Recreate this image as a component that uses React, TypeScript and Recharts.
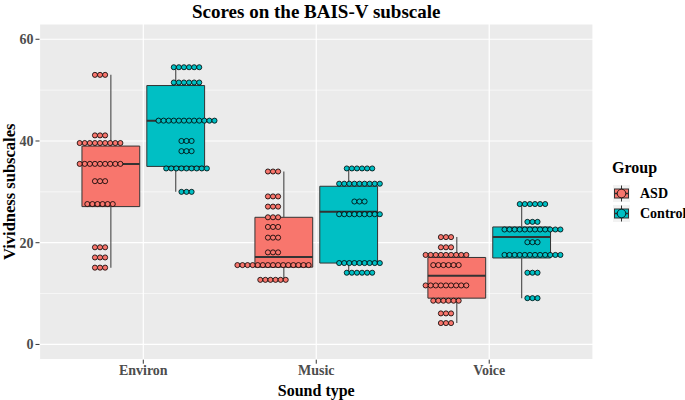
import React from "react";
import {
  CartesianGrid,
  ComposedChart,
  ReferenceArea,
  ReferenceLine,
  Scatter,
  XAxis,
  YAxis,
} from "recharts";

// sound types on the x axis, groups dodged inside each
const categories = ["Environ", "Music", "Voice"];
const groups = ["ASD", "Control"];
const groupColors = ["#F8766D", "#00BFC4"];

// boxplot stats per category (Environ, Music, Voice)
const asdLow = [15.1, 12.7, 4.2];
const asdQ1 = [27.1, 15.2, 9.1];
const asdMedian = [35.5, 17.2, 13.5];
const asdQ3 = [39.0, 25.0, 17.1];
const asdHigh = [53.0, 34.0, 21.1];

const controlLow = [30.0, 14.1, 9.1];
const controlQ1 = [35.0, 16.0, 17.0];
const controlMedian = [44.0, 26.1, 21.1];
const controlQ3 = [50.9, 31.1, 23.1];
const controlHigh = [54.5, 34.6, 27.6];

// dotplot rows: [score, number of dots]
const asdEnvironDots = [[53.0, 3], [41.1, 3], [39.6, 9], [35.5, 9], [32.1, 3], [27.6, 6], [19.1, 3], [17.1, 3], [15.1, 3]];
const asdMusicDots = [[34.0, 3], [29.1, 3], [27.1, 3], [25.0, 3], [23.1, 3], [21.0, 3], [18.1, 3], [15.6, 15], [12.7, 6]];
const asdVoiceDots = [[21.1, 3], [19.1, 3], [17.6, 9], [15.6, 6], [11.6, 9], [8.6, 6], [6.1, 3], [4.2, 3]];

const controlEnvironDots = [[54.5, 6], [51.5, 6], [44.0, 12], [40.0, 3], [38.0, 3], [34.6, 9], [30.0, 3]];
const controlMusicDots = [[34.6, 6], [31.6, 9], [28.1, 3], [25.6, 9], [16.0, 9], [14.1, 6]];
const controlVoiceDots = [[27.6, 6], [24.1, 3], [22.6, 12], [20.1, 3], [17.6, 12], [14.1, 3], [9.1, 3]];

const yTicks = [0, 20, 40, 60];
const yMinor = [10, 30, 50];

const W = 685;
const H = 400;
const M = { top: 24, right: 92, left: 9.5, bottom: 4.3 };
const Y_AXIS_W = 30;
const X_AXIS_H = 36;
const X_DOMAIN = [0.4, 3.6];
const Y_DOMAIN = [-3, 63];
const PLOT_W = W - M.left - M.right - Y_AXIS_W;
const PLOT_H = H - M.top - M.bottom - X_AXIS_H;
const BINWIDTH = 1;
// dot diameter expressed in x units
const DOT_DX =
  (BINWIDTH * PLOT_H) / (Y_DOMAIN[1] - Y_DOMAIN[0]) /
  (PLOT_W / (X_DOMAIN[1] - X_DOMAIN[0]));
const DOT_R = (BINWIDTH * PLOT_H) / (Y_DOMAIN[1] - Y_DOMAIN[0]) / 2;

const BOX_DODGE = 0.1875;
const BOX_HALF = 0.167;
const DOT_DODGE = 0.25;

const stats = [
  { low: asdLow, q1: asdQ1, med: asdMedian, q3: asdQ3, high: asdHigh },
  { low: controlLow, q1: controlQ1, med: controlMedian, q3: controlQ3, high: controlHigh },
];
const dotRows = [
  [asdEnvironDots, asdMusicDots, asdVoiceDots],
  [controlEnvironDots, controlMusicDots, controlVoiceDots],
];

function stackDots(g: number) {
  const pts: { x: number; y: number }[] = [];
  dotRows[g].forEach((rows, c) => {
    const center = c + 1 + (g === 0 ? -DOT_DODGE : DOT_DODGE);
    rows.forEach(([v, n]) => {
      for (let i = 0; i < n; i++) {
        pts.push({ x: center + (i - (n - 1) / 2) * DOT_DX, y: v });
      }
    });
  });
  return pts;
}

const font = '"Liberation Serif", "Times New Roman", serif';

function LegendKey({ color }: { color: string }) {
  return (
    <svg width={17} height={17} style={{ display: "block" }}>
      <rect x={0} y={0} width={17} height={17} fill="#F2F2F2" />
      <line x1={8.5} x2={8.5} y1={0.5} y2={16.5} stroke="#333" strokeWidth={1} />
      <rect x={1.5} y={4} width={14} height={9} fill={color} stroke="#333" strokeWidth={1} />
      <line x1={1.5} x2={15.5} y1={8.5} y2={8.5} stroke="#333" strokeWidth={1.5} />
      <circle cx={8.5} cy={8.5} r={4.3} fill={color} stroke="#000" strokeWidth={0.8} />
    </svg>
  );
}

export default function App() {
  const tickStyle = { fill: "#4D4D4D", fontFamily: font, fontWeight: 700, fontSize: 14 };
  return (
    <div style={{ position: "absolute", left: 0, top: 0, width: W, height: H, background: "#fff", fontFamily: font }}>
      <div
        style={{
          position: "absolute",
          left: M.left + Y_AXIS_W,
          width: PLOT_W,
          top: 0,
          textAlign: "center",
          fontWeight: 700,
          fontSize: 19,
          lineHeight: "24px",
          color: "#000",
        }}
      >
        Scores on the BAIS-V subscale
      </div>
      <ComposedChart width={W} height={H} margin={M}>
        <CartesianGrid fill="#EBEBEB" stroke="#fff" strokeWidth={1.2} />
        <CartesianGrid
          stroke="#fff"
          strokeWidth={0.6}
          vertical={false}
          horizontalValues={yMinor}
        />
        <XAxis
          type="number"
          dataKey="x"
          domain={X_DOMAIN}
          ticks={[1, 2, 3]}
          tickFormatter={(v) => categories[v - 1]}
          allowDataOverflow
          height={X_AXIS_H}
          axisLine={false}
          tickLine={{ stroke: "#333" }}
          tickSize={4}
          tickMargin={1}
          tick={tickStyle}
          label={{
            value: "Sound type",
            position: "insideBottom",
            offset: 0,
            style: { fill: "#000", fontFamily: font, fontWeight: 700, fontSize: 16 },
          }}
        />
        <YAxis
          type="number"
          dataKey="y"
          domain={Y_DOMAIN}
          ticks={yTicks}
          allowDataOverflow
          width={Y_AXIS_W}
          axisLine={false}
          tickLine={{ stroke: "#333" }}
          tickSize={4}
          tickMargin={2}
          tick={tickStyle}
          label={{
            value: "Vividness subscales",
            angle: -90,
            position: "insideLeft",
            offset: 0,
            style: { textAnchor: "middle", fill: "#000", fontFamily: font, fontWeight: 700, fontSize: 16.5 },
          }}
        />
        {groups.map((g, gi) =>
          categories.map((c, ci) => {
            const s = stats[gi];
            const cx = ci + 1 + (gi === 0 ? -BOX_DODGE : BOX_DODGE);
            return (
              <React.Fragment key={g + c}>
                <ReferenceLine
                  segment={[{ x: cx, y: s.q3[ci] }, { x: cx, y: s.high[ci] }]}
                  stroke="#555"
                  strokeWidth={1.2}
                />
                <ReferenceLine
                  segment={[{ x: cx, y: s.low[ci] }, { x: cx, y: s.q1[ci] }]}
                  stroke="#555"
                  strokeWidth={1.2}
                />
                <ReferenceArea
                  x1={cx - BOX_HALF}
                  x2={cx + BOX_HALF}
                  y1={s.q1[ci]}
                  y2={s.q3[ci]}
                  fill={groupColors[gi]}
                  fillOpacity={1}
                  stroke="#333"
                  strokeWidth={1}
                />
                <ReferenceLine
                  segment={[{ x: cx - BOX_HALF, y: s.med[ci] }, { x: cx + BOX_HALF, y: s.med[ci] }]}
                  stroke="#333"
                  strokeWidth={2}
                />
              </React.Fragment>
            );
          })
        )}
        {groups.map((g, gi) => (
          <Scatter
            key={g}
            name={g}
            data={stackDots(gi)}
            isAnimationActive={false}
            shape={(p: any) => (
              <circle cx={p.cx} cy={p.cy} r={DOT_R} fill={groupColors[gi]} stroke="#000" strokeWidth={0.8} />
            )}
          />
        ))}
      </ComposedChart>
      <div style={{ position: "absolute", left: 612, top: 158, fontWeight: 700, fontSize: 16, lineHeight: "20px", color: "#000" }}>
        Group
      </div>
      {groups.map((g, gi) => (
        <div key={g} style={{ position: "absolute", left: 613, top: 185 + gi * 20, display: "flex", alignItems: "center" }}>
          <LegendKey color={groupColors[gi]} />
          <span style={{ marginLeft: 10, fontWeight: 700, fontSize: 14, color: "#000", lineHeight: "17px" }}>{g}</span>
        </div>
      ))}
    </div>
  );
}
